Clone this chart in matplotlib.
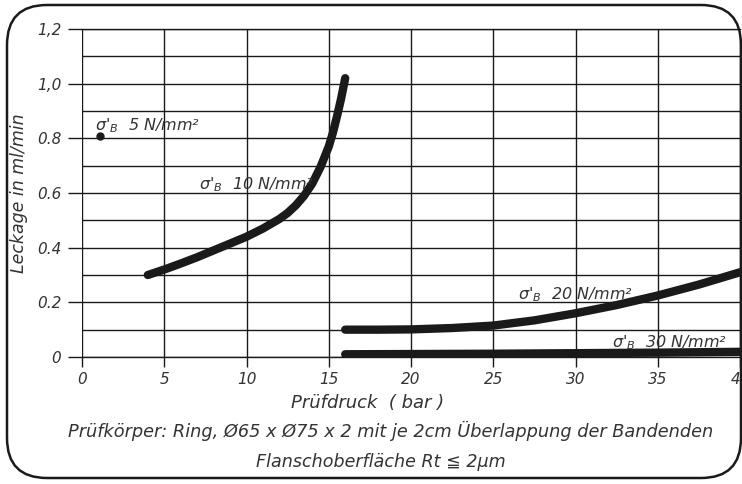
import numpy as np
import matplotlib.pyplot as plt
from matplotlib.patches import FancyBboxPatch

# Daten
x_5 = [1.1]
y_5 = [0.81]

x_10 = [4, 5, 6, 7, 8, 9, 10, 11, 12, 12.5, 13, 13.5, 14, 14.5, 15, 15.25, 15.5, 15.75, 16]
y_10 = [0.30, 0.32, 0.342, 0.365, 0.39, 0.415, 0.44, 0.47, 0.505, 0.527, 0.555, 0.59,
        0.635, 0.695, 0.77, 0.82, 0.88, 0.945, 1.02]

x_20 = [16, 18, 20, 22.5, 25, 27.5, 30, 32.5, 35, 37.5, 40]
y_20 = [0.10, 0.10, 0.101, 0.106, 0.115, 0.134, 0.16, 0.19, 0.225, 0.265, 0.31]

x_30 = [16, 25, 30, 35, 40]
y_30 = [0.010, 0.012, 0.014, 0.016, 0.019]

x_ticks = [0, 5, 10, 15, 20, 25, 30, 35, 40]
y_ticks = [0, 0.2, 0.4, 0.6, 0.8, 1.0, 1.2]
y_ticklabels = ['0', '0.2', '0.4', '0.6', '0.8', '1,0', '1,2']

ink = '#1a1a1a'
txt = '#333333'

fig = plt.figure(figsize=(7.42, 4.84), dpi=100)
ax = fig.add_axes([82 / 742, 1 - 357 / 484, (740 - 82) / 742, (357 - 29) / 484])
ax.set_xlim(0, 40)
ax.set_ylim(0, 1.2)

# Gitter
ax.set_xticks(x_ticks)
ax.set_yticks(y_ticks)
ax.set_yticks(np.arange(0.1, 1.2, 0.2), minor=True)
ax.grid(True, which='both', color=ink, lw=1.0)
for s in ax.spines.values():
    s.set_visible(False)
ax.axhline(1.2, color=ink, lw=1.0, clip_on=False)
ax.axhline(0, color=ink, lw=1.0, clip_on=False)
ax.tick_params(axis='y', which='major', length=10, width=1.0, color=ink, pad=5)
ax.tick_params(axis='y', which='minor', length=0)
ax.tick_params(axis='x', length=7, width=1.0, color=ink, pad=4)
ax.set_yticklabels(y_ticklabels)
for lab in ax.get_xticklabels() + ax.get_yticklabels():
    lab.set_fontstyle('italic')
    lab.set_fontsize(11)
    lab.set_color(txt)

# Kurven
kw = dict(color=ink, lw=6, solid_capstyle='round', solid_joinstyle='round', zorder=5)
ax.plot(x_10, y_10, **kw)
ax.plot(x_20, y_20, **kw)
ax.plot(x_30, y_30, **kw)
ax.plot(x_5, y_5, 'o', color=ink, ms=5, zorder=5)

tk = dict(fontsize=11.5, fontstyle='italic', color=txt, zorder=6)
ax.text(0.8, 0.83, "σ'$_B$  5 N/mm²", **tk)
ax.text(7.1, 0.615, "σ'$_B$  10 N/mm²", **tk)
ax.text(26.5, 0.21, "σ'$_B$  20 N/mm²", **tk)
ax.text(32.2, 0.035, "σ'$_B$  30 N/mm²", **tk)

ax.set_ylabel('Leckage in ml/min', fontsize=12.5, fontstyle='italic', color=txt, labelpad=6)
fig.text(368 / 742, 1 - 403 / 484, 'Prüfdruck  ( bar )',
         ha='center', va='center', fontsize=13, fontstyle='italic', color=txt)
fig.text(391 / 742, 1 - 431 / 484, 'Prüfkörper: Ring, Ø65 x Ø75 x 2 mit je 2cm Überlappung der Bandenden',
         ha='center', va='center', fontsize=12.8, fontstyle='italic', color=txt)
fig.text(381 / 742, 1 - 462 / 484, 'Flanschoberfläche Rt ≦ 2µm',
         ha='center', va='center', fontsize=12.6, fontstyle='italic', color=txt)

# Rahmen mit abgerundeten Ecken
frame = FancyBboxPatch((7, 6), 734, 473, boxstyle='round,pad=0,rounding_size=40',
                       transform=None, fill=False, ec=ink, lw=1.8)
fig.patches.append(frame)

fig.savefig('out.png', dpi=100)
